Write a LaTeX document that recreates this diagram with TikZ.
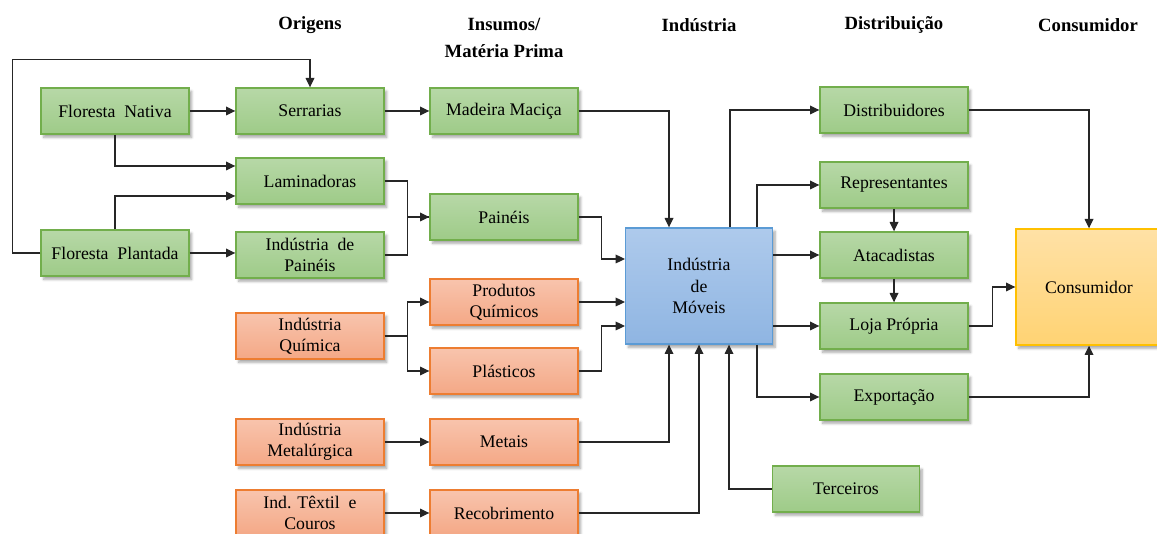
\documentclass[tikz,border=0pt]{standalone}
\usepackage{fontspec}
\setmainfont{Liberation Serif}
\usetikzlibrary{arrows.meta,calc,shadows.blur}

\definecolor{gTop}{HTML}{B7D8A7}
\definecolor{gBot}{HTML}{9ECB88}
\definecolor{gLine}{HTML}{72AE4C}
\definecolor{oTop}{HTML}{F8C4AD}
\definecolor{oBot}{HTML}{F4A886}
\definecolor{oLine}{HTML}{ED7D31}
\definecolor{bTop}{HTML}{AECAEC}
\definecolor{bBot}{HTML}{8FB5E2}
\definecolor{bLine}{HTML}{5B9BD5}
\definecolor{yTop}{HTML}{FFE1A6}
\definecolor{yBot}{HTML}{FFD373}
\definecolor{yLine}{HTML}{FFC000}
\definecolor{wire}{HTML}{262626}

\tikzset{
  x=0.75pt, y=-0.75pt,
  box/.style={draw, line width=1pt, minimum width=111pt, minimum height=34.5pt,
    inner sep=0pt, align=center, font=\fontsize{13.3}{15.5}\selectfont,
    blur shadow={shadow xshift=2pt, shadow yshift=-2.5pt, shadow blur steps=6, shadow opacity=35}},
  gbox/.style={box, draw=gLine, top color=gTop, bottom color=gBot},
  obox/.style={box, draw=oLine, top color=oTop, bottom color=oBot},
  bbox/.style={box, draw=bLine, top color=bTop, bottom color=bBot,
    minimum width=110pt, minimum height=87pt, font=\fontsize{13.3}{16.2}\selectfont},
  ybox/.style={box, draw=yLine, top color=yTop, bottom color=yBot,
    minimum width=109.5pt, minimum height=87pt},
  head/.style={font=\fontsize{14}{20}\selectfont\bfseries, align=center},
  arr/.style={draw=wire, line width=0.9pt, -{Triangle[length=7pt,width=6.5pt]}},
  wirel/.style={draw=wire, line width=0.9pt}
}

\begin{document}
\begin{tikzpicture}
\useasboundingbox (0,0) rectangle (1157,534);

% column headings
\node[head] (hOri) at (310,25) {Origens};
\node[head] (hIns) at (504,38) {Insumos/\\Matéria Prima};
\node[head] (hInd) at (699,25) {Indústria};
\node[head] (hDis) at (894,25) {Distribuição};
\node[head] (hCon) at (1088,25) {Consumidor};

% origins and raw materials
\node[gbox] (fn)  at (115,111) {Floresta\ \ Nativa};
\node[gbox] (fp)  at (115,253) {Floresta\ \ Plantada};
\node[gbox] (ser) at (310,111) {Serrarias};
\node[gbox] (lam) at (310,181) {Laminadoras};
\node[gbox] (ip)  at (310,255) {Indústria\ \ de\\Painéis};
\node[obox] (iq)  at (310,336) {Indústria\\Química};
\node[obox] (im)  at (310,442) {Indústria\\Metalúrgica};
\node[obox] (it)  at (310,513) {Ind. Têxtil\ \ e\\Couros};

\node[gbox] (mad) at (504,111) {Madeira Maciça};
\node[gbox] (pai) at (504,217) {Painéis};
\node[obox] (pq)  at (504,302) {Produtos\\Químicos};
\node[obox] (pla) at (504,371) {Plásticos};
\node[obox] (met) at (504,442) {Metais};
\node[obox] (rec) at (504,513) {Recobrimento};

% industry
\node[bbox] (mov) at (699,286) {Indústria\\de\\Móveis};
\node[gbox, minimum width=110pt] (ter) at (846,489) {Terceiros};

% distribution
\node[gbox] (dis) at (894,110) {Distribuidores};
\node[gbox] (rep) at (894,185) {Representantes};
\node[gbox] (ata) at (894,255) {Atacadistas};
\node[gbox] (loj) at (894,326) {Loja Própria};
\node[gbox] (exp) at (894,397) {Exportação};

% consumer
\node[ybox] (con) at (1089,287) {Consumidor};

% forests
\draw[arr] (fp.west) -- ++(-28,0) |- ($(ser.north)+(0,-28)$) -- (ser.north);
\draw[arr] (fn.east) -- (ser.west);
\draw[arr] (fn.south) |- ($(lam.west)+(0,-15)$);
\draw[arr] (fp.north) |- ($(lam.west)+(0,15)$);
\draw[arr] (fp.east) -- (fp.east -| ip.west);

% to raw materials
\draw[arr] (ser.east) -- (mad.west);
\draw[wirel] (lam.east) -- ++(23,0) |- (pai.west);
\draw[arr] (ip.east) -- ++(23,0) |- (pai.west);
\draw[arr] (iq.east) -- ++(23,0) |- (pq.west);
\draw[arr] (iq.east) -- ++(23,0) |- (pla.west);
\draw[arr] (im.east) -- (met.west);
\draw[arr] (it.east) -- (rec.west);

% raw materials into the furniture industry
\draw[arr] (mad.east) -| ($(mov.north)+(-30,0)$);
\draw[arr] (pai.east) -- ++(23,0) |- ($(mov.west)+(0,-27)$);
\draw[arr] (pq.east) -- (pq.east -| mov.west);
\draw[arr] (pla.east) -- ++(23,0) |- ($(mov.west)+(0,40)$);
\draw[arr] (met.east) -| ($(mov.south)+(-30,0)$);
\draw[arr] (rec.east) -| (mov.south);
\draw[arr] (ter.west) -| ($(mov.south)+(30,0)$);

% distribution channels
\draw[arr] ($(mov.north)+(31,0)$) |- (dis.west);
\draw[arr] ($(mov.north)+(58,0)$) |- (rep.west);
\draw[arr] (mov.east |- ata.west) -- (ata.west);
\draw[arr] (mov.east |- loj.west) -- (loj.west);
\draw[arr] ($(mov.south)+(58,0)$) |- (exp.west);
\draw[arr] (rep.south) -- (ata.north);
\draw[arr] (ata.south) -- (loj.north);

% to the consumer
\draw[arr] (dis.east) -| (con.north);
\draw[arr] (loj.east) -- ++(24,0) |- (con.west);
\draw[arr] (exp.east) -| (con.south);
\end{tikzpicture}
\end{document}
